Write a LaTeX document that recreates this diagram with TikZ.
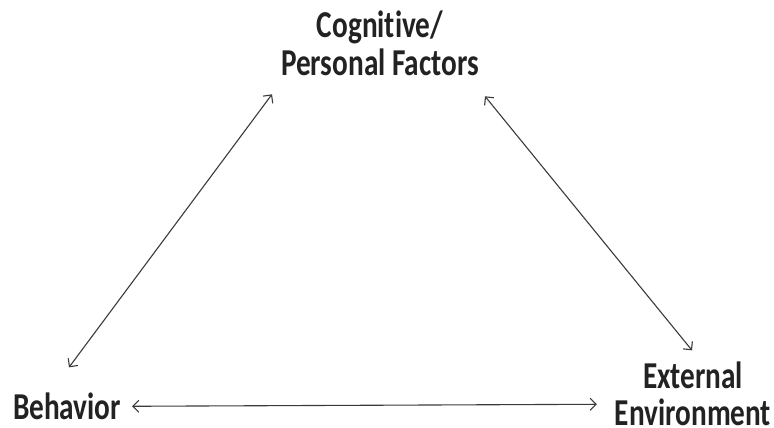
\documentclass[tikz,border=0pt]{standalone}
\usepackage{fontspec}
\setmainfont{Carlito}[FakeStretch=0.77,Ligatures=NoCommon]
\usetikzlibrary{arrows.meta}
\definecolor{txt}{HTML}{222222}
\definecolor{arr}{HTML}{3A3A3A}
\begin{document}
\begin{tikzpicture}[x=1pt,y=-1pt,
  lbl/.style={inner sep=0pt,outer sep=0pt,text=txt,font=\fontsize{38}{37}\selectfont\bfseries,align=center},
  link/.style={draw=arr,line width=1.1pt,{Straight Barb[length=6pt,width=12pt]}-{Straight Barb[length=6pt,width=12pt]}}]
\useasboundingbox (0,0) rectangle (774,428);
\node[lbl,anchor=base] (cog) at (380,75) {Cognitive/\\Personal Factors};
\node[lbl,anchor=base west] (beh) at (13,419) {Behavior};
\node[lbl,anchor=base] (env) at (693,425) {External\\Environment};
\draw[link] ([shift={(56,-25)}]beh.north west) -- ([shift={(-108,19)}]cog.south);
\draw[link] ([shift={(105,21)}]cog.south) -- ([shift={(-1,-11)}]env.north);
\draw[link] ([shift={(11,-13)}]beh.south east) -- ([shift={(-18,-21)}]env.south west);
\end{tikzpicture}
\end{document}
